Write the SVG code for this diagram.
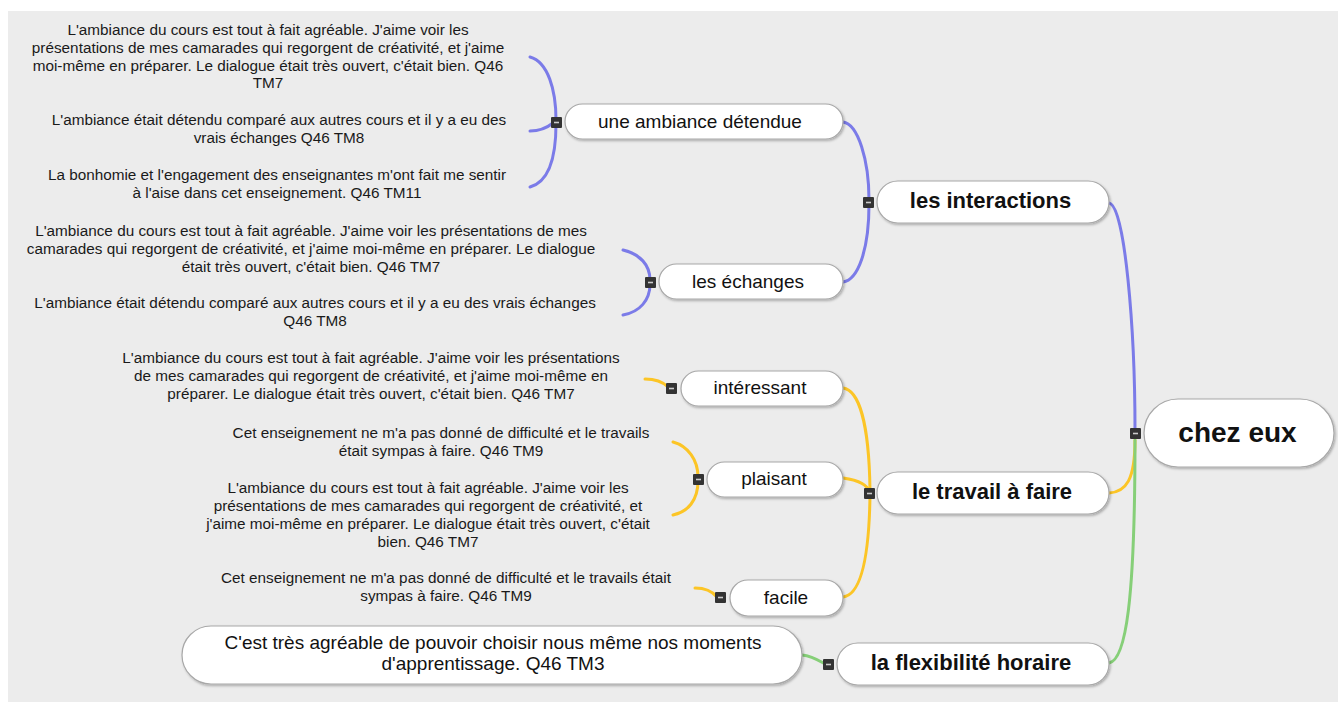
<svg xmlns="http://www.w3.org/2000/svg" width="1338" height="702" viewBox="0 0 1338 702">
<defs>
<filter id="sh" x="-10%" y="-20%" width="120%" height="150%">
<feDropShadow dx="1.2" dy="1.5" stdDeviation="0.8" flood-color="#000" flood-opacity="0.28"/>
</filter>
<style>
.pill{fill:#fff;stroke:#a8a8a8;stroke-width:1.2;filter:url(#sh)}
.t{font-family:"Liberation Sans",Arial,sans-serif;fill:#111;text-anchor:middle}
.b{font-weight:bold}
.leaf{font-family:"Liberation Sans",Arial,sans-serif;fill:#1a1a1a;font-size:15.3px;text-anchor:middle}
.c{fill:none;stroke-width:3;stroke-linecap:round}
.bl{stroke:#7b7be8}
.ye{stroke:#fcc526}
.gr{stroke:#86cf78}
.sq{fill:#333}
.mn{stroke:#ccc;stroke-width:1.6}
</style>
</defs>
<rect x="0" y="0" width="1338" height="702" fill="#fff"/>
<rect x="8" y="11" width="1330" height="691" fill="#ececec"/>

<g id="connectors">
<path class="c bl" d="M1109,203 C1125,205 1135,330 1135,430"/>
<path class="c ye" d="M1135,440 C1135,480 1126,492 1109,493"/>
<path class="c gr" d="M1135,440 C1135,600 1126,660 1109,663"/>
<path class="c bl" d="M843,122 C858,124 869,160 869,200"/>
<path class="c bl" d="M869,204 C869,250 858,280 843,282"/>
<path class="c bl" d="M530,57 C548,62 556,90 556,120"/>
<path class="c bl" d="M530,131 C540,131 548,127 553,123"/>
<path class="c bl" d="M556,124 C556,160 548,182 530,187"/>
<path class="c bl" d="M623,250 C640,254 650,265 650,280"/>
<path class="c bl" d="M650,284 C650,300 640,312 623,315"/>
<path class="c ye" d="M843,388 C858,390 869,420 870,490"/>
<path class="c ye" d="M843,478 C858,480 868,485 870,493"/>
<path class="c ye" d="M870,496 C869,560 860,595 843,597"/>
<path class="c ye" d="M645,379 C655,379 662,381 668,387"/>
<path class="c ye" d="M673,442 C688,446 698,460 698,477"/>
<path class="c ye" d="M698,481 C698,500 688,512 673,515"/>
<path class="c ye" d="M695,588 C705,588 712,591 717,597"/>
<path class="c gr" d="M802,655 C812,656 818,660 825,664"/>
</g>

<g id="root">
<rect class="pill" x="1144" y="399" width="190" height="68" rx="34"/>
<text class="t b" x="1237.5" y="442" font-size="28">chez eux</text>
<rect class="sq" x="1130" y="428" width="11" height="11" rx="1"/>
<line class="mn" x1="1133" y1="433.5" x2="1138" y2="433.5"/>
</g>

<g id="n-interactions">
<rect class="pill" x="877" y="181" width="232" height="42" rx="21"/>
<text class="t b" x="990.5" y="208" font-size="22">les interactions</text>
<rect class="sq" x="863" y="197" width="11" height="11" rx="1"/>
<line class="mn" x1="866" y1="202.5" x2="871" y2="202.5"/>
</g>

<g id="n-ambiance">
<rect class="pill" x="565" y="104" width="278" height="35" rx="17.5"/>
<text class="t" x="700" y="127.5" font-size="19">une ambiance détendue</text>
<rect class="sq" x="551" y="117" width="11" height="11" rx="1"/>
<line class="mn" x1="554" y1="122.5" x2="559" y2="122.5"/>
</g>

<g id="l-amb-1">
<text class="leaf" x="268" y="35">L'ambiance du cours est tout à fait agréable. J'aime voir les</text>
<text class="leaf" x="268" y="53">présentations de mes camarades qui regorgent de créativité, et j'aime</text>
<text class="leaf" x="268" y="71">moi-même en préparer. Le dialogue était très ouvert, c'était bien. Q46</text>
<text class="leaf" x="268" y="88">TM7</text>
</g>
<g id="l-amb-2">
<text class="leaf" x="279" y="125">L'ambiance était détendu comparé aux autres cours et il y a eu des</text>
<text class="leaf" x="279" y="143">vrais échanges Q46 TM8</text>
</g>
<g id="l-amb-3">
<text class="leaf" x="277" y="180">La bonhomie et l'engagement des enseignantes m'ont fait me sentir</text>
<text class="leaf" x="277" y="198">à l'aise dans cet enseignement. Q46 TM11</text>
</g>

<g id="n-echanges">
<rect class="pill" x="659" y="264" width="184" height="35" rx="17.5"/>
<text class="t" x="748" y="287.5" font-size="19">les échanges</text>
<rect class="sq" x="645" y="277" width="11" height="11" rx="1"/>
<line class="mn" x1="648" y1="282.5" x2="653" y2="282.5"/>
</g>

<g id="l-ech-1">
<text class="leaf" x="311" y="236">L'ambiance du cours est tout à fait agréable. J'aime voir les présentations de mes</text>
<text class="leaf" x="311" y="254">camarades qui regorgent de créativité, et j'aime moi-même en préparer. Le dialogue</text>
<text class="leaf" x="311" y="272">était très ouvert, c'était bien. Q46 TM7</text>
</g>
<g id="l-ech-2">
<text class="leaf" x="315" y="308">L'ambiance était détendu comparé aux autres cours et il y a eu des vrais échanges</text>
<text class="leaf" x="315" y="326">Q46 TM8</text>
</g>

<g id="n-travail">
<rect class="pill" x="877" y="472" width="232" height="42" rx="21"/>
<text class="t b" x="992" y="499" font-size="22">le travail à faire</text>
<rect class="sq" x="864" y="488" width="11" height="11" rx="1"/>
<line class="mn" x1="867" y1="493.5" x2="872" y2="493.5"/>
</g>

<g id="n-interessant">
<rect class="pill" x="681" y="371" width="162" height="35" rx="17.5"/>
<text class="t" x="760" y="394" font-size="19">intéressant</text>
<rect class="sq" x="666" y="383" width="11" height="11" rx="1"/>
<line class="mn" x1="669" y1="388.5" x2="674" y2="388.5"/>
</g>
<g id="l-int-1">
<text class="leaf" x="371" y="363">L'ambiance du cours est tout à fait agréable. J'aime voir les présentations</text>
<text class="leaf" x="371" y="381">de mes camarades qui regorgent de créativité, et j'aime moi-même en</text>
<text class="leaf" x="371" y="399">préparer. Le dialogue était très ouvert, c'était bien. Q46 TM7</text>
</g>

<g id="n-plaisant">
<rect class="pill" x="707" y="462" width="136" height="35" rx="17.5"/>
<text class="t" x="774" y="485" font-size="19">plaisant</text>
<rect class="sq" x="693" y="474" width="11" height="11" rx="1"/>
<line class="mn" x1="696" y1="479.5" x2="701" y2="479.5"/>
</g>
<g id="l-pla-1">
<text class="leaf" x="441" y="438">Cet enseignement ne m'a pas donné de difficulté et le travails</text>
<text class="leaf" x="441" y="456">était sympas à faire. Q46 TM9</text>
</g>
<g id="l-pla-2">
<text class="leaf" x="428" y="493">L'ambiance du cours est tout à fait agréable. J'aime voir les</text>
<text class="leaf" x="428" y="511">présentations de mes camarades qui regorgent de créativité, et</text>
<text class="leaf" x="428" y="529">j'aime moi-même en préparer. Le dialogue était très ouvert, c'était</text>
<text class="leaf" x="428" y="547">bien. Q46 TM7</text>
</g>

<g id="n-facile">
<rect class="pill" x="730" y="580" width="113" height="36" rx="18"/>
<text class="t" x="786" y="604" font-size="19">facile</text>
<rect class="sq" x="715" y="592" width="11" height="11" rx="1"/>
<line class="mn" x1="718" y1="597.5" x2="723" y2="597.5"/>
</g>
<g id="l-fac-1">
<text class="leaf" x="446" y="583">Cet enseignement ne m'a pas donné de difficulté et le travails était</text>
<text class="leaf" x="446" y="601">sympas à faire. Q46 TM9</text>
</g>

<g id="n-flexibilite">
<rect class="pill" x="837" y="643" width="272" height="42" rx="21"/>
<text class="t b" x="971" y="670" font-size="22">la flexibilité horaire</text>
<rect class="sq" x="823" y="659" width="11" height="11" rx="1"/>
<line class="mn" x1="826" y1="664.5" x2="831" y2="664.5"/>
</g>
<g id="l-flex-1">
<rect class="pill" x="182" y="626" width="620" height="58" rx="29"/>
<text class="t" x="493" y="649" font-size="19">C'est très agréable de pouvoir choisir nous même nos moments</text>
<text class="t" x="493" y="670" font-size="19">d'apprentissage. Q46 TM3</text>
</g>
</svg>
